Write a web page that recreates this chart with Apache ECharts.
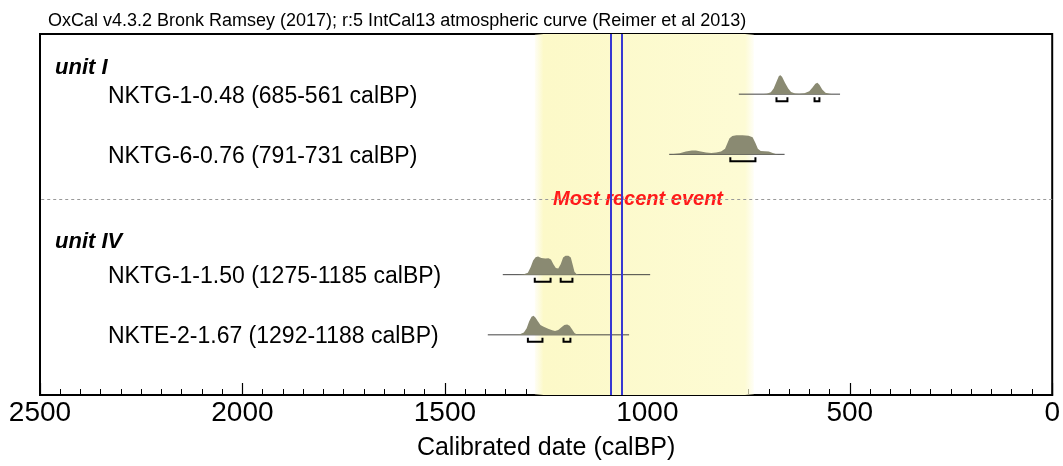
<!DOCTYPE html>
<html><head><meta charset="utf-8">
<script src="https://cdn.jsdelivr.net/npm/echarts@6/dist/echarts.min.js"></script>
<style>html,body{margin:0;padding:0;background:#fff}#c{width:1063px;height:466px}</style>
</head><body><div id="c"></div>
<script>
// ---- data ----
const titleText = 'OxCal v4.3.2 Bronk Ramsey (2017); r:5 IntCal13 atmospheric curve (Reimer et al 2013)';
const axisName = 'Calibrated date (calBP)';
const xMin = 0, xMax = 2500, xStep = 500;
const unitLabels = ['unit I', 'unit IV'];
const unitRows = [0.57, 3.45];
const sampleLabels = [
  'NKTG-1-0.48 (685-561 calBP)',
  'NKTG-6-0.76 (791-731 calBP)',
  'NKTG-1-1.50 (1275-1185 calBP)',
  'NKTE-2-1.67 (1292-1188 calBP)'
];
const sampleRows = [1, 2, 4, 5];
const baselineRanges = [[774, 524], [946, 661], [1357, 993], [1394, 1045]];
const density1 = [[774,0],[720,0],[705,0.02],[695,0.1],[688,0.3],[680,0.7],[675,0.95],[671,1.0],[667,0.9],[660,0.6],[652,0.3],[645,0.12],[635,0.04],[625,0.02],[612,0.05],[600,0.15],[592,0.35],[585,0.55],[580,0.6],[575,0.5],[568,0.25],[560,0.08],[550,0.02],[540,0],[524,0]];
const density2 = [[946,0],[935,0.02],[920,0.06],[905,0.15],[890,0.2],[880,0.2],[868,0.15],[855,0.1],[842,0.07],[830,0.1],[818,0.15],[808,0.3],[802,0.6],[797,0.85],[790,0.97],[780,1.0],[765,1.0],[750,0.98],[740,0.9],[733,0.6],[727,0.3],[720,0.18],[710,0.16],[700,0.15],[692,0.08],[683,0.02],[675,0],[661,0]];
const density3 = [[1357,0],[1320,0],[1305,0.02],[1295,0.1],[1288,0.4],[1282,0.75],[1276,0.92],[1270,0.95],[1262,0.88],[1252,0.85],[1244,0.87],[1238,0.8],[1232,0.55],[1226,0.35],[1220,0.32],[1214,0.55],[1208,0.9],[1202,1.0],[1195,1.0],[1189,0.9],[1184,0.5],[1180,0.15],[1175,0.03],[1168,0],[993,0]];
const density4 = [[1394,0],[1330,0],[1315,0.03],[1305,0.12],[1298,0.35],[1292,0.7],[1286,0.95],[1281,1.0],[1276,0.9],[1270,0.7],[1264,0.52],[1256,0.42],[1245,0.32],[1235,0.24],[1228,0.2],[1220,0.25],[1212,0.4],[1205,0.52],[1198,0.55],[1192,0.48],[1186,0.3],[1180,0.1],[1174,0.02],[1168,0],[1045,0]];
const ranges1 = [[681, 654], [587, 575]];
const ranges2 = [[795, 733]];
const ranges3 = [[1278, 1239], [1214, 1185]];
const ranges4 = [[1295, 1259], [1207, 1190]];
const eventLines = [1091, 1064];
const eventLabels = ['AD762', 'AD841'];
const bandRange = [1278, 737];
const bandLabel = 'Most recent event';
const separatorRow = 2.75;

// ---- chart ----
const densities = [density1, density2, density3, density4];
const ranges = [ranges1, ranges2, ranges3, ranges4];
const FONT = 'Liberation Sans, Arial, Helvetica, sans-serif';
const H = 19;

const chart = echarts.init(document.getElementById('c'), null, {renderer: 'canvas'});
const option = {
  animation: false,
  backgroundColor: '#fff',
  grid: {left: 40, right: 6, top: 34, bottom: 68, show: true, borderColor: '#000', borderWidth: 2, backgroundColor: 'transparent'},
  xAxis: {
    type: 'value', min: xMin, max: xMax, interval: xStep, inverse: true, position: 'bottom',
    axisLine: {show: true, onZero: false, lineStyle: {color: '#000', width: 2}},
    axisTick: {show: true, inside: true, length: 12, lineStyle: {color: '#000', width: 1.2}},
    minorTick: {show: true, splitNumber: 10, length: 6, lineStyle: {color: '#000', width: 1}},
    splitLine: {show: false},
    axisLabel: {color: '#000', fontSize: 28, fontFamily: FONT, margin: 4, formatter: v => String(v)},
    name: axisName, nameLocation: 'middle', nameGap: 41,
    nameTextStyle: {color: '#000', fontSize: 25, fontFamily: FONT}
  },
  yAxis: {type: 'value', min: 0, max: 6, inverse: true, show: false},
  series: [
    {
      type: 'line', data: [], z: 1, silent: true,
      markArea: {
        silent: true,
        itemStyle: {color: new echarts.graphic.LinearGradient(0, 0, 1, 0, [
          {offset: 0, color: 'rgba(252,249,205,0.2)'},
          {offset: 0.04, color: 'rgba(252,249,200,1)'},
          {offset: 0.96, color: 'rgba(253,251,212,1)'},
          {offset: 1, color: 'rgba(253,251,212,0.2)'}
        ])},
        data: [[{xAxis: bandRange[0]}, {xAxis: bandRange[1]}]]
      },
      markLine: {
        silent: true, symbol: 'none', label: {show: false},
        lineStyle: {color: '#999', type: [3, 3], width: 1},
        data: [{yAxis: separatorRow}]
      }
    },
    {
      type: 'custom', z: 2, clip: false,
      encode: {x: 0, y: 1},
      data: sampleLabels.map((_, i) => [baselineRanges[i][0], sampleRows[i], i]),
      renderItem: function (params, api) {
        const i = api.value(2);
        const row = sampleRows[i];
        const children = [];
        const b0 = api.coord([baselineRanges[i][0], row]);
        const b1 = api.coord([baselineRanges[i][1], row]);
        children.push({type: 'line', shape: {x1: b0[0], y1: b0[1], x2: b1[0], y2: b1[1]}, style: {stroke: '#444', lineWidth: 1}});
        const pts = densities[i].map(d => { const p = api.coord([d[0], row]); return [p[0], p[1] - d[1] * H]; });
        children.push({type: 'polygon', shape: {points: pts}, style: {fill: '#8a8a72'}});
        ranges[i].forEach(r => {
          const a = api.coord([r[0], row]);
          const b = api.coord([r[1], row]);
          const y = a[1] + 7;
          children.push({type: 'polyline', shape: {points: [[a[0], y - 4], [a[0], y], [b[0], y], [b[0], y - 4]]}, style: {stroke: '#000', lineWidth: 2, fill: null}});
        });
        return {type: 'group', children: children};
      }
    },
    {
      type: 'line', data: [], z: 5, silent: true,
      markLine: {
        silent: true, symbol: 'none', label: {show: false},
        lineStyle: {color: '#3838d2', type: 'solid', width: 2},
        data: eventLines.map(v => ({xAxis: v}))
      }
    }
  ]
};
chart.setOption(option);

const px = (x, y) => chart.convertToPixel({gridIndex: 0}, [x, y]);
const graphics = [];
graphics.push({type: 'text', left: 48, top: 12, style: {text: titleText, font: '18px ' + FONT, fill: '#000'}});
unitLabels.forEach((t, k) => {
  const p = px(0, unitRows[k]);
  graphics.push({type: 'text', x: 55, y: p[1], style: {text: t, font: 'italic bold 22px ' + FONT, fill: '#000', verticalAlign: 'middle'}});
});
sampleLabels.forEach((t, k) => {
  const p = px(0, sampleRows[k]);
  graphics.push({type: 'text', x: 108, y: p[1] + 2, style: {text: t, font: '23px ' + FONT, fill: '#000', verticalAlign: 'middle'}});
});
const e0 = px(eventLines[0], 0), e1 = px(eventLines[1], 0);
graphics.push({type: 'text', x: e0[0] - 7, y: 47, style: {text: eventLabels[0], font: 'italic bold 18px ' + FONT, fill: '#2b2ba0', align: 'right', verticalAlign: 'middle'}});
graphics.push({type: 'text', x: e1[0] + 8, y: 47, style: {text: eventLabels[1], font: 'italic 18px ' + FONT, fill: '#4343b5', align: 'left', verticalAlign: 'middle'}});
const sp = px(0, separatorRow);
graphics.push({type: 'text', x: 638, y: sp[1], z: 3, style: {text: bandLabel, font: 'italic bold 20px ' + FONT, fill: '#ff1a1a', align: 'center', verticalAlign: 'middle'}});
chart.setOption({graphic: graphics});
</script>
</body></html>
